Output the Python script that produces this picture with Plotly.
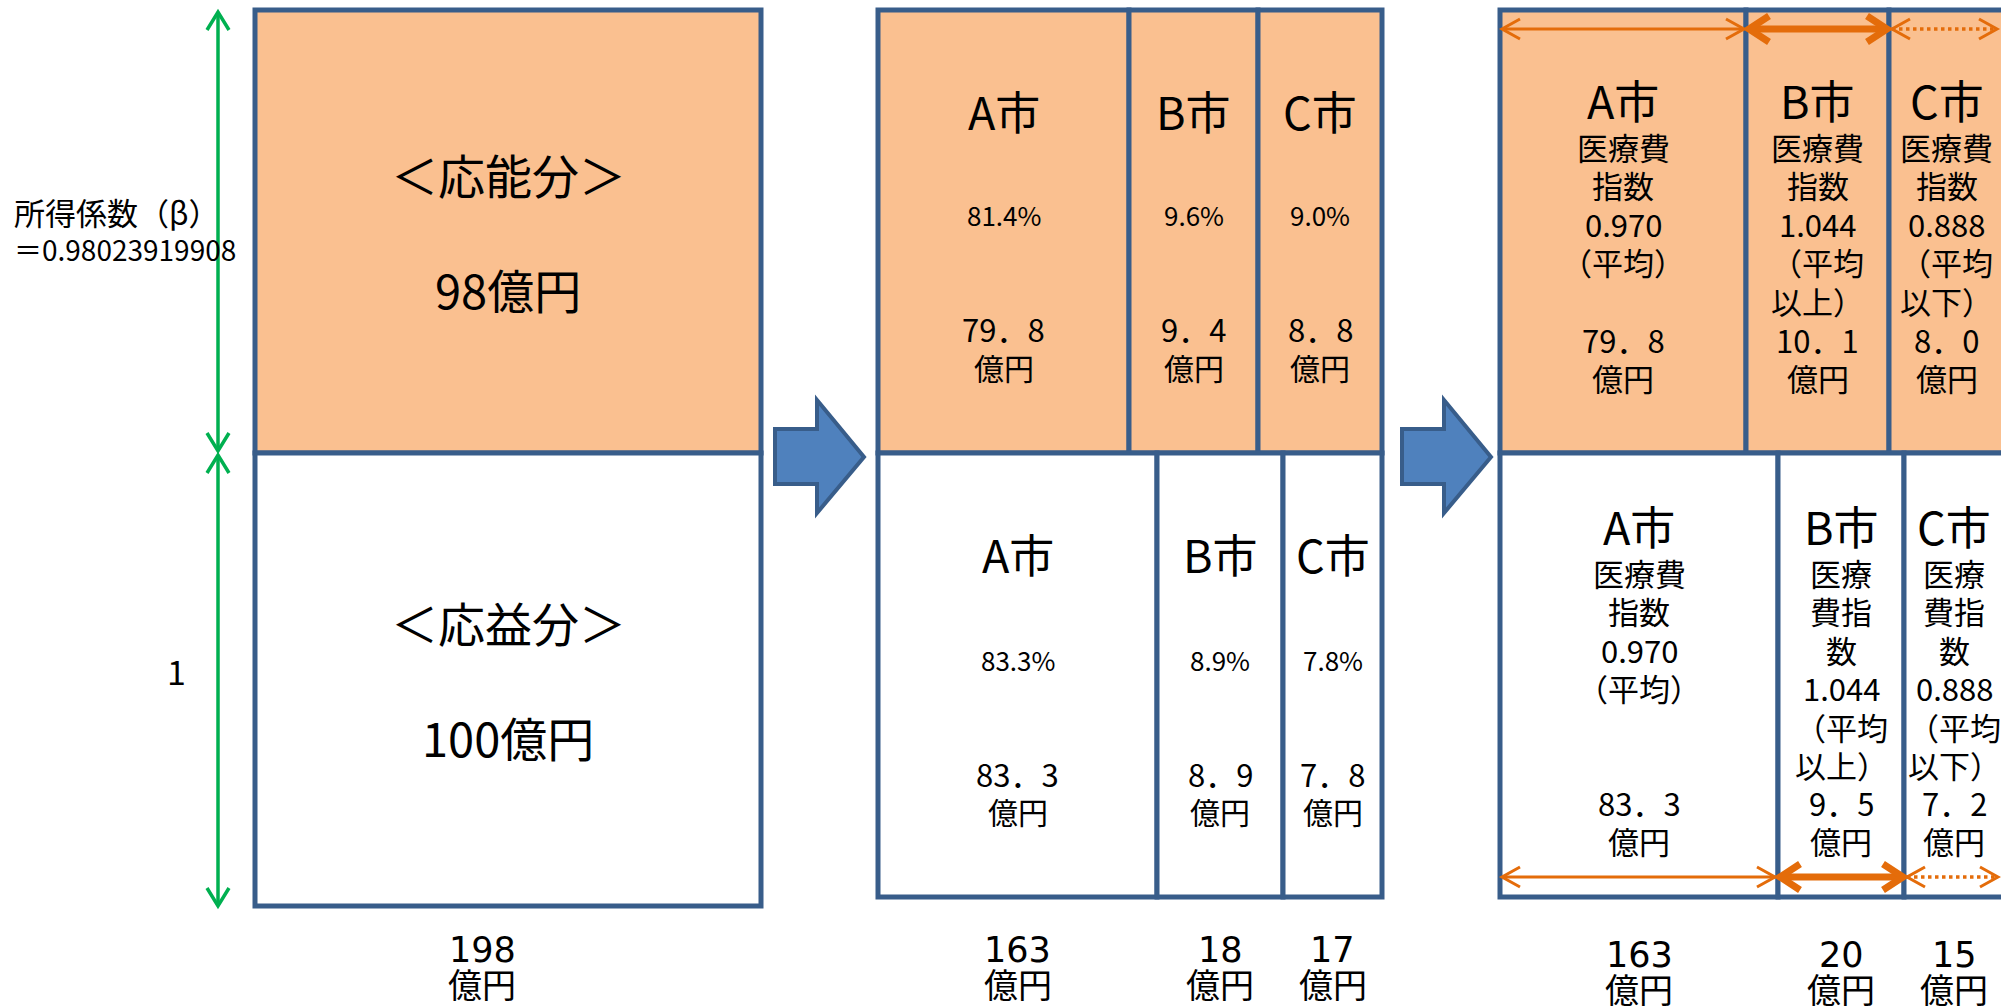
import plotly.graph_objects as go

# ---------------- data ----------------
cities = ["A市", "B市", "C市"]
ability_total = 98          # 応能分 (億円)
benefit_total = 100         # 応益分 (億円)
grand_total = 198           # 億円
income_coef = "0.98023919908"
benefit_weight = "1"
ability_share = [81.4, 9.6, 9.0]       # %
ability_amount = [79.8, 9.4, 8.8]      # 億円
benefit_share = [83.3, 8.9, 7.8]       # %
benefit_amount = [83.3, 8.9, 7.8]      # 億円
totals_before = [163, 18, 17]          # 億円
med_index = [0.970, 1.044, 0.888]
med_note_top = [["（平均）"], ["（平均", "以上）"], ["（平均", "以下）"]]
med_label_top = [["医療費", "指数"], ["医療費", "指数"], ["医療費", "指数"]]
med_label_bot = [["医療費", "指数"], ["医療", "費指", "数"], ["医療", "費指", "数"]]
ability_adj = [79.8, 10.1, 8.0]        # 億円
benefit_adj = [83.3, 9.5, 7.2]         # 億円
totals_after = [163, 20, 15]           # 億円

# ---------------- style / geometry ----------------
W, H = 2001, 1007
ORANGE_FILL = "#FAC090"
BORDER = "#385D8A"
ARROW_FILL = "#4F81BD"
GREEN = "#00B050"
ORANGE = "#E46C0A"
JP = "Noto Sans CJK JP"
NUM = "DejaVu Sans, Noto Sans CJK JP"

Y_TOP, Y_MID = 10, 453
Y_BOT_LEFT, Y_BOT = 906, 897
left_x = [255, 761]
mid_top_x = [878, 1129, 1258, 1382]
mid_bot_x = [878, 1157, 1283, 1382]
right_top_x = [1500, 1746, 1889, 2004]
right_bot_x = [1500, 1778, 1904, 2004]
DY = -2  # small global text offset

shapes = []
annotations = []


def rect(x0, y0, x1, y1, fill):
    shapes.append(dict(type="rect", xref="x", yref="y", x0=x0, y0=y0, x1=x1, y1=y1,
                       fillcolor=fill, line=dict(color=BORDER, width=5)))


def txt(x, y, s, size, family=JP, anchor="center"):
    annotations.append(dict(x=x, y=y + DY, xref="x", yref="y", text=s, showarrow=False,
                            xanchor=anchor, yanchor="middle",
                            font=dict(family=family, size=size, color="black")))


def path(d, color, width, dash="solid", fill=None):
    s = dict(type="path", xref="x", yref="y", path=d,
             line=dict(color=color, width=width, dash=dash))
    if fill:
        s["fillcolor"] = fill
    shapes.append(s)


def harrow(x0, x1, y, width, dash, hl, hw):
    hwid = width if dash == "solid" else 3
    path(f"M{x0},{y} L{x1},{y}", ORANGE, width, dash)
    path(f"M{x0+hl},{y-hw} L{x0},{y} L{x0+hl},{y+hw}", ORANGE, hwid)
    path(f"M{x1-hl},{y-hw} L{x1},{y} L{x1-hl},{y+hw}", ORANGE, hwid)


def varrow(x, y0, y1):
    path(f"M{x},{y0} L{x},{y1}", GREEN, 3.5)
    path(f"M{x-11},{y0+18} L{x},{y0} L{x+11},{y0+18}", GREEN, 3.5)
    path(f"M{x-11},{y1-18} L{x},{y1} L{x+11},{y1-18}", GREEN, 3.5)


def fmt_amt(v):
    return f"{v:.1f}".replace(".", "．")


def centers(xs):
    return [(xs[i] + xs[i + 1]) / 2 for i in range(len(xs) - 1)]


# ---------------- left block ----------------
rect(left_x[0], Y_TOP, left_x[1], Y_MID, ORANGE_FILL)
rect(left_x[0], Y_MID, left_x[1], Y_BOT_LEFT, "white")
varrow(218, 12, 451)
varrow(218, 455, 906)
lc = (left_x[0] + left_x[1]) / 2
txt(lc, 175, "＜応能分＞", 47)
txt(lc, 290, f"{ability_total}億円", 47)
txt(lc, 623, "＜応益分＞", 47)
txt(lc, 738, f"{benefit_total}億円", 47)
txt(12, 213, "所得係数（β）", 31, anchor="left")
txt(12, 251, "＝" + income_coef, 28, anchor="left")
txt(176, 672, benefit_weight, 34)
txt(482, 952, f"{grand_total}", 35, family=NUM)
txt(482, 985, "億円", 34)

# ---------------- block arrows ----------------
for dx in (0, 627):
    path(f"M{775+dx},429 L{817+dx},429 L{817+dx},400 L{864+dx},457 L{817+dx},513 "
         f"L{817+dx},484 L{775+dx},484 Z", BORDER, 4, fill=ARROW_FILL)

# ---------------- middle block ----------------
for i in range(3):
    rect(mid_top_x[i], Y_TOP, mid_top_x[i + 1], Y_MID, ORANGE_FILL)
for i in range(3):
    rect(mid_bot_x[i], Y_MID, mid_bot_x[i + 1], Y_BOT, "white")
for cx, c, sh, am in zip(centers(mid_top_x), cities, ability_share, ability_amount):
    txt(cx, 112, c, 45)
    txt(cx, 216, f"{sh:.1f}%", 26)
    txt(cx, 330, fmt_amt(am), 31)
    txt(cx, 369, "億円", 30)
for cx, c, sh, am, t in zip(centers(mid_bot_x), cities, benefit_share, benefit_amount, totals_before):
    txt(cx, 555, c, 45)
    txt(cx, 661, f"{sh:.1f}%", 26)
    txt(cx, 775, fmt_amt(am), 31)
    txt(cx, 813, "億円", 30)
    txt(cx, 952, f"{t}", 35, family=NUM)
    txt(cx, 985, "億円", 34)

# ---------------- right block ----------------
for i in range(3):
    rect(right_top_x[i], Y_TOP, right_top_x[i + 1], Y_MID, ORANGE_FILL)
for i in range(3):
    rect(right_bot_x[i], Y_MID, right_bot_x[i + 1], Y_BOT, "white")

step = 38.5
for cx, c, lab, idx, note, am in zip(centers(right_top_x), cities, med_label_top,
                                     med_index, med_note_top, ability_adj):
    txt(cx, 101, c, 45)
    y = 148
    for s in lab:
        txt(cx, y, s, 31); y += step
    txt(cx, y, f"{idx:.3f}", 31); y += step
    for s in note:
        txt(cx, y, s, 31); y += step
    txt(cx, 341, fmt_amt(am), 31)
    txt(cx, 379, "億円", 31)

for cx, c, lab, idx, note, am, t in zip(centers(right_bot_x), cities, med_label_bot,
                                        med_index, med_note_top, benefit_adj, totals_after):
    txt(cx, 527, c, 45)
    y = 574
    for s in lab:
        txt(cx, y, s, 31); y += step
    txt(cx, y, f"{idx:.3f}", 31); y += step
    for s in note:
        txt(cx, y, s, 31); y += step
    txt(cx, 804, fmt_amt(am), 31)
    txt(cx, 842, "億円", 31)
    txt(cx, 957, f"{t}", 35, family=NUM)
    txt(cx, 990, "億円", 34)

# orange width arrows
harrow(1502, 1744, 29, 3, "solid", 18, 10)
harrow(1749, 1887, 29, 7, "solid", 20, 13)
harrow(1892, 1997, 29, 3.5, "dot", 18, 10)
harrow(1502, 1775, 877, 3, "solid", 18, 10)
harrow(1780, 1903, 877, 7, "solid", 20, 13)
harrow(1907, 1998, 877, 3.5, "dot", 18, 10)

fig = go.Figure()
fig.update_layout(
    width=W, height=H, margin=dict(l=0, r=0, t=0, b=0, pad=0),
    plot_bgcolor="white", paper_bgcolor="white", showlegend=False,
    xaxis=dict(range=[0, W], visible=False, fixedrange=True),
    yaxis=dict(range=[H, 0], visible=False, fixedrange=True),
    shapes=shapes, annotations=annotations,
)
fig.write_html("out.html")
